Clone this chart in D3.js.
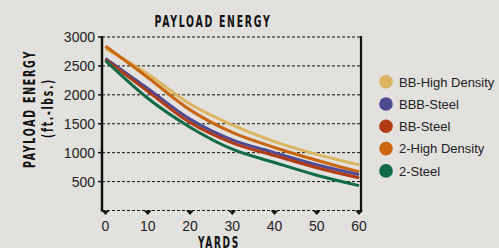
<!DOCTYPE html>
<meta charset="utf-8">
<style>
body { margin: 0; background: #e3e1de; }
svg { display: block; }
.grid line { stroke: #111; stroke-width: 1px; stroke-dasharray: 3,2; }
.tick-label { font-family: "Liberation Sans", Arial, sans-serif; font-size: 14px; fill: #222; }
.title { font-family: "DejaVu Sans Condensed", "Liberation Sans Narrow", sans-serif; font-weight: bold; font-size: 15px; letter-spacing: 2.5px; fill: #111; }
.legend text { font-family: "Liberation Sans", Arial, sans-serif; font-size: 13px; fill: #222; }
.line { fill: none; stroke-width: 3px; }
</style>
<svg width="499" height="248"></svg>
<script src="https://cdn.jsdelivr.net/npm/d3@7"></script>
<script>
var width = 499, height = 248;

var yards = [0, 10, 20, 30, 40, 50, 60];
var yTicks = [500, 1000, 1500, 2000, 2500, 3000];

var bbHighDensity = [2800, 2360, 1840, 1480, 1190, 970, 790];
var bbbSteel      = [2630, 2110, 1580, 1220, 1000, 790, 620];
var bbSteel       = [2610, 2060, 1520, 1170, 950, 740, 565];
var twoHighDensity = [2840, 2300, 1740, 1350, 1090, 870, 670];
var twoSteel      = [2590, 1940, 1440, 1060, 830, 610, 430];

var seriesNames = ["BB-High Density", "BBB-Steel", "BB-Steel", "2-High Density", "2-Steel"];
var seriesColors = ["#dbb55f", "#4e4a93", "#b13b13", "#c9660e", "#0f6b46"];
var seriesValues = [bbHighDensity, bbbSteel, bbSteel, twoHighDensity, twoSteel];

var svg = d3.select("svg");

var x = d3.scaleLinear().domain([0, 60]).range([105.5, 359]);
var y = d3.scaleLinear().domain([0, 3000]).range([210.5, 37]);
var left = 102, right = 361;

// gridlines
svg.append("g").attr("class", "grid")
  .selectAll("line").data(yTicks).enter().append("line")
    .attr("x1", left).attr("x2", right)
    .attr("y1", function(d) { return y(d); })
    .attr("y2", function(d) { return y(d); });

// bottom dashed axis
svg.append("line")
  .attr("x1", left).attr("x2", right)
  .attr("y1", y(0)).attr("y2", y(0))
  .attr("stroke", "#111").attr("stroke-width", 1.2).attr("stroke-dasharray", "3,2");

// small ticks left of y axis
svg.append("g").selectAll("line").data(yTicks).enter().append("line")
  .attr("x1", left - 4).attr("x2", left)
  .attr("y1", function(d) { return y(d); })
  .attr("y2", function(d) { return y(d); })
  .attr("stroke", "#111").attr("stroke-width", 1.5);

// triangles on x axis
svg.append("g").selectAll("path").data(yards).enter().append("path")
  .attr("d", function(d) {
    var cx = x(d), cy = y(0);
    return "M" + (cx - 4) + "," + cy + "L" + (cx + 4) + "," + cy + "L" + cx + "," + (cy + 4.5) + "Z";
  })
  .attr("fill", "#111");

// lines
var line = d3.line()
  .x(function(d, i) { return x(yards[i]); })
  .y(function(d) { return y(d); })
  .curve(d3.curveMonotoneX);

var drawOrder = [0, 3, 1, 2, 4];
svg.append("g").selectAll("path").data(drawOrder).enter().append("path")
  .attr("class", "line")
  .attr("stroke", function(k) { return seriesColors[k]; })
  .attr("d", function(k) { return line(seriesValues[k]); });

// axis verticals
svg.append("line")
  .attr("x1", left).attr("x2", left).attr("y1", y(3000) - 1).attr("y2", y(0) + 1)
  .attr("stroke", "#111").attr("stroke-width", 2.5);
svg.append("line")
  .attr("x1", right).attr("x2", right).attr("y1", y(3000) - 1).attr("y2", y(0) + 1)
  .attr("stroke", "#111").attr("stroke-width", 2.2);

// tick labels
svg.append("g").selectAll("text").data(yTicks).enter().append("text")
  .attr("class", "tick-label")
  .attr("x", 95).attr("y", function(d) { return y(d) + 5; })
  .attr("text-anchor", "end")
  .text(function(d) { return d; });

svg.append("g").selectAll("text").data(yards).enter().append("text")
  .attr("class", "tick-label")
  .attr("x", function(d) { return x(d); }).attr("y", 231)
  .attr("text-anchor", "middle")
  .text(function(d) { return d; });

// titles (squeezed to the condensed widths of the original)
function title(txt, len) {
  return svg.append("text").attr("class", "title")
    .attr("text-anchor", "middle")
    .attr("textLength", len)
    .attr("lengthAdjust", "spacingAndGlyphs")
    .text(txt);
}

title("PAYLOAD ENERGY", 117).attr("x", 213).attr("y", 26.5);
title("YARDS", 42).attr("x", 219).attr("y", 247.5);
title("PAYLOAD ENERGY", 118).attr("transform", "translate(35,109) rotate(-90)");
title("(ft.-lbs.)", 60).attr("transform", "translate(53,108) rotate(-90)");

// legend
var legend = svg.append("g").attr("class", "legend")
  .selectAll("g").data(seriesNames).enter().append("g")
    .attr("transform", function(d, i) { return "translate(386," + (81.7 + i * 22.3) + ")"; });

legend.append("circle").attr("r", 6.8)
  .attr("fill", function(d, i) { return seriesColors[i]; });

legend.append("text").attr("x", 13).attr("y", 4.8)
  .text(function(d) { return d; });
</script>
